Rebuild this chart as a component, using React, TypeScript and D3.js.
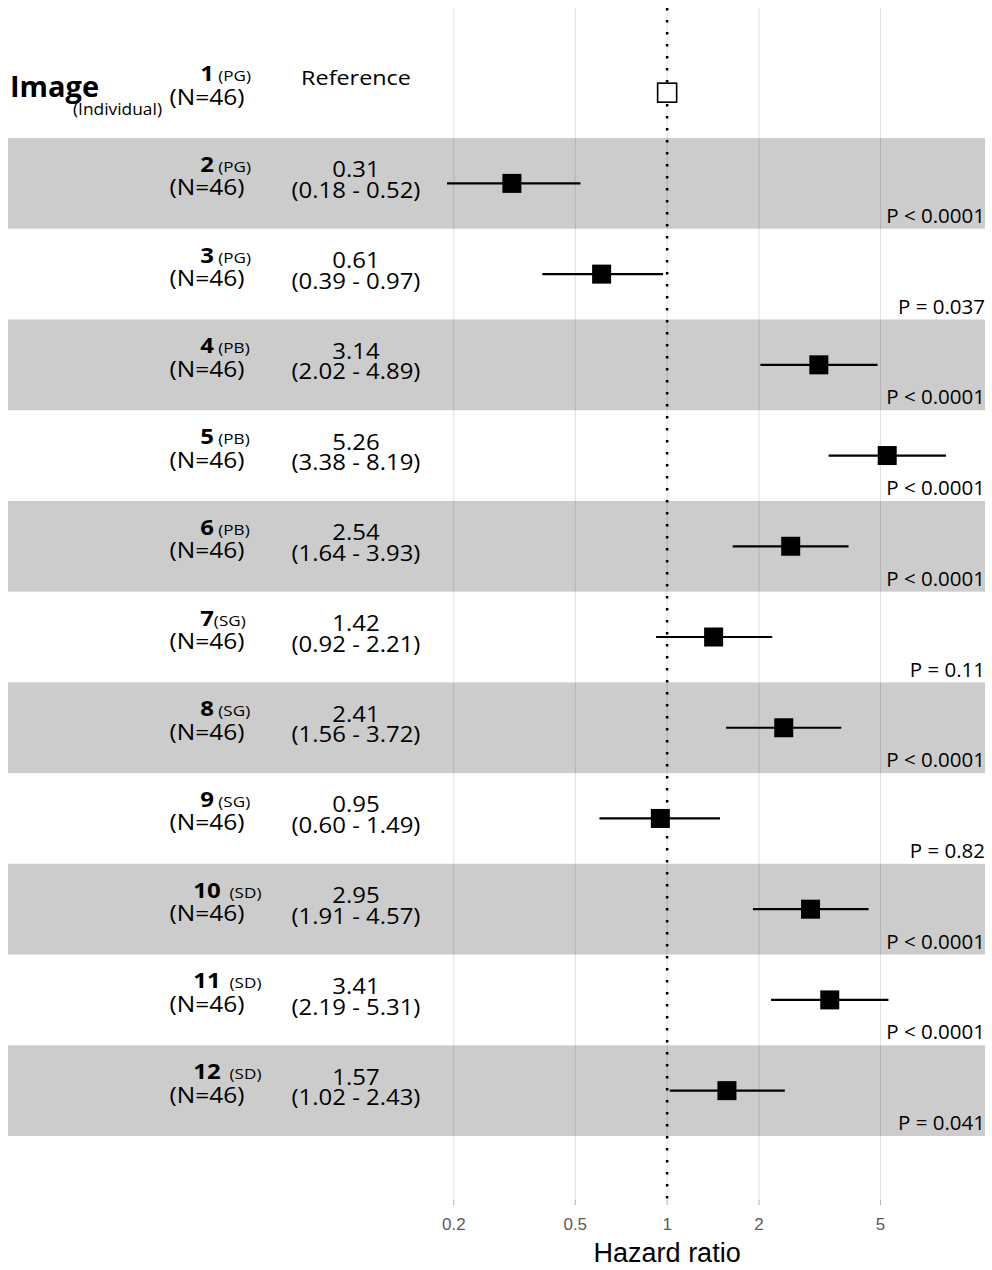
import React from 'react';
import * as d3 from 'd3';

// Rows of the forest plot, top to bottom
const rowIds = ['1', '2', '3', '4', '5', '6', '7', '8', '9', '10', '11', '12'];
const groupTags = [' (PG)', ' (PG)', ' (PG)', ' (PB)', ' (PB)', ' (PB)', '(SG)', ' (SG)', ' (SG)', '  (SD)', '  (SD)', '  (SD)'];
const nLabels = ['(N=46)', '(N=46)', '(N=46)', '(N=46)', '(N=46)', '(N=46)', '(N=46)', '(N=46)', '(N=46)', '(N=46)', '(N=46)', '(N=46)'];
const hazardRatios = [1, 0.31, 0.61, 3.14, 5.26, 2.54, 1.42, 2.41, 0.95, 2.95, 3.41, 1.57];
const ciLower = [null, 0.18, 0.39, 2.02, 3.38, 1.64, 0.92, 1.56, 0.6, 1.91, 2.19, 1.02];
const ciUpper = [null, 0.52, 0.97, 4.89, 8.19, 3.93, 2.21, 3.72, 1.49, 4.57, 5.31, 2.43];
const pLabels = ['', 'P < 0.0001', 'P = 0.037', 'P < 0.0001', 'P < 0.0001', 'P < 0.0001', 'P = 0.11', 'P < 0.0001', 'P = 0.82', 'P < 0.0001', 'P < 0.0001', 'P = 0.041'];
const tickValues = [0.2, 0.5, 1, 2, 5];
const tickLabels = ['0.2', '0.5', '1', '2', '5'];

const W = 992;
const H = 1270;
const TABLE_FONT = "'Open Sans', 'Noto Sans', sans-serif";
const AXIS_FONT = "'Liberation Sans', Arial, sans-serif";
const SX = 1.14; // horizontal stretch of the table text

export default function App() {
  const x = d3.scaleLog().domain([0.19, 11]).range([447, 985]);
  const y = d3.scaleBand<string>().domain(rowIds).range([47.3, 1136]).padding(0);
  const bw = y.bandwidth();
  const gridTop = 8;
  const gridBottom = 1200;
  const [xMin, xMax] = x.range();
  const clampX = (v: number) => Math.max(xMin, Math.min(xMax, x(v)));

  const nameCenter = 207;
  const numSize = 21;
  const tagSize = 15;
  const estCenter = 356;
  const sq = 19;

  const stretched = (tx: number, ty: number) => `translate(${tx},${ty}) scale(${SX},1)`;

  return (
    <svg
      width={W}
      height={H}
      viewBox={`0 0 ${W} ${H}`}
      style={{ position: 'absolute', left: 0, top: 0, display: 'block', background: '#fff' }}
    >
      <rect x={0} y={0} width={W} height={H} fill="#fff" />

      {/* vertical grid lines and ticks */}
      {tickValues.map((t) => (
        <g key={`g${t}`}>
          <line x1={x(t)} x2={x(t)} y1={gridTop} y2={gridBottom} stroke="#e0e0e0" strokeWidth={1} />
          <line x1={x(t)} x2={x(t)} y1={gridBottom} y2={gridBottom + 5} stroke="#b0b0b0" strokeWidth={1} />
        </g>
      ))}

      {/* alternating row shading */}
      {rowIds.map((id, i) =>
        i % 2 === 1 ? (
          <rect key={`b${id}`} x={8} y={y(id)} width={977} height={bw} fill="#000" fillOpacity={0.2} />
        ) : null
      )}

      {/* reference line at HR = 1 */}
      <line
        x1={x(1)}
        x2={x(1)}
        y1={gridTop}
        y2={gridBottom + 5}
        stroke="#000"
        strokeWidth={2.6}
        strokeDasharray="2.6 9.4"
      />

      {/* confidence intervals and point estimates */}
      {rowIds.map((id, i) => {
        const cy = (y(id) as number) + bw / 2;
        const lo = ciLower[i];
        const hi = ciUpper[i];
        const cx = x(hazardRatios[i]);
        return (
          <g key={`p${id}`}>
            {lo !== null && hi !== null && (
              <line x1={clampX(lo)} x2={clampX(hi)} y1={cy} y2={cy} stroke="#000" strokeWidth={2.2} />
            )}
            {lo === null ? (
              <rect x={cx - sq / 2} y={cy - sq / 2} width={sq} height={sq} fill="#fff" stroke="#000" strokeWidth={1.6} />
            ) : (
              <rect x={cx - sq / 2} y={cy - sq / 2} width={sq} height={sq} fill="#000" />
            )}
          </g>
        );
      })}

      {/* header label */}
      <text fontFamily={TABLE_FONT} fill="#000">
        <tspan x={10} y={97} fontSize={29} fontWeight={700}>
          Image
        </tspan>
        <tspan x={73} y={114.5} fontSize={15.5} textLength={89} lengthAdjust="spacingAndGlyphs">
          (Individual)
        </tspan>
      </text>

      {/* row labels, estimates and p-values */}
      {rowIds.map((id, i) => {
        const cy = (y(id) as number) + bw / 2;
        const numHalf = (id.length * 0.572 * numSize) / 2;
        const lo = ciLower[i];
        const hi = ciUpper[i];
        return (
          <g key={`t${id}`}>
            <text
              transform={stretched(nameCenter, cy)}
              fontFamily={TABLE_FONT}
              fill="#000"
              xmlSpace="preserve"
              style={{ whiteSpace: 'pre' }}
            >
              <tspan x={0} y={-11.5} fontSize={numSize} fontWeight={700} textAnchor="middle">
                {id}
              </tspan>
              <tspan x={numHalf} y={-11.5} fontSize={tagSize} textAnchor="start">
                {groupTags[i]}
              </tspan>
              <tspan x={0} y={12} fontSize={21.5} textAnchor="middle">
                {nLabels[i]}
              </tspan>
            </text>
            <text
              transform={stretched(estCenter, cy)}
              fontFamily={TABLE_FONT}
              fill="#000"
              textAnchor="middle"
            >
              {lo === null || hi === null ? (
                <tspan x={0} y={-8} fontSize={20.5}>
                  Reference
                </tspan>
              ) : (
                <>
                  <tspan x={0} y={-6} fontSize={21}>
                    {hazardRatios[i].toFixed(2)}
                  </tspan>
                  <tspan x={0} y={14.6} fontSize={21}>
                    {`(${lo.toFixed(2)} - ${hi.toFixed(2)})`}
                  </tspan>
                </>
              )}
            </text>
            {pLabels[i] && (
              <text
                x={985}
                y={cy + 39.5}
                fontSize={20.5}
                fontFamily={TABLE_FONT}
                textAnchor="end"
                fill="#000"
              >
                {pLabels[i]}
              </text>
            )}
          </g>
        );
      })}

      {/* x axis */}
      {tickValues.map((t, i) => (
        <text
          key={`tl${t}`}
          x={x(t)}
          y={1230}
          fontSize={17}
          fontFamily={AXIS_FONT}
          textAnchor="middle"
          fill="#5a5a5a"
        >
          {tickLabels[i]}
        </text>
      ))}
      <text x={x(1)} y={1262} fontSize={27} fontFamily={AXIS_FONT} textAnchor="middle" fill="#000">
        Hazard ratio
      </text>
    </svg>
  );
}
